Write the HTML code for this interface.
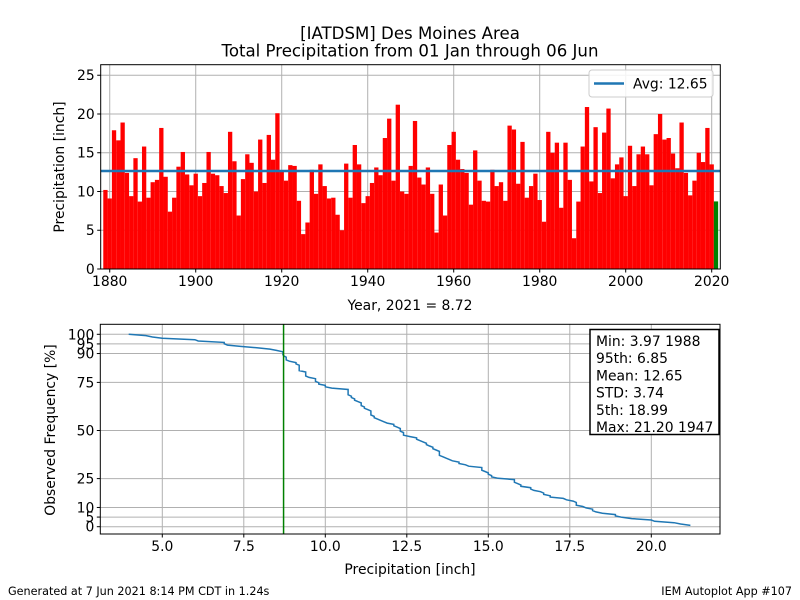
<!DOCTYPE html>
<html><head><meta charset="utf-8"><style>
html,body{margin:0;padding:0;background:#fff;}
svg{display:block;font-family:"DejaVu Sans","Liberation Sans",sans-serif;}
</style></head><body>
<svg id="chart" width="800" height="600" viewBox="0 0 800 600" xmlns="http://www.w3.org/2000/svg">
<rect width="800" height="600" fill="#fff"/>
<text x="410" y="39" font-size="16.6" text-anchor="middle">[IATDSM] Des Moines Area</text>
<text x="410" y="56.5" font-size="16.6" text-anchor="middle">Total Precipitation from 01 Jan through 06 Jun</text>
<g id="topchart"></g>
<g id="botchart"></g>
<text x="8" y="595" font-size="11.2">Generated at 7 Jun 2021 8:14 PM CDT in 1.24s</text>
<text x="792" y="595" font-size="11.2" text-anchor="end">IEM Autoplot App #107</text>
</svg>
<script>
const years = [];
for (let y = 1879; y <= 2021; y++) years.push(y);
const precip = [
10.2,9.1,17.9,16.6,18.9,12.4,9.4,14.3,8.7,15.8,9.2,11.2,11.5,18.2,11.9,7.4,9.2,13.2,15.1,12.2,10.8,
12.3,9.4,11.1,15.1,12.3,12.1,10.7,9.8,17.7,13.9,6.9,11.6,14.8,13.7,10.0,16.7,11.1,17.3,14.1,20.1,
12.6,11.4,13.4,13.3,8.8,4.5,6.0,12.8,9.7,13.5,10.7,9.1,9.2,7.0,5.0,13.6,9.2,16.0,13.5,8.5,
9.4,11.1,13.1,12.1,16.9,19.4,11.4,21.2,10.0,9.7,13.3,19.1,11.8,10.9,13.1,9.7,4.7,10.9,6.9,16.0,
17.7,14.1,12.9,12.4,8.3,15.3,11.4,8.8,8.7,12.8,10.7,11.2,8.8,18.5,18.0,11.0,16.4,9.2,10.7,12.3,
8.9,6.1,17.7,15.0,16.3,7.9,16.3,11.5,3.97,8.7,15.8,20.9,11.3,18.3,9.8,17.6,20.7,11.7,13.5,14.4,
9.4,15.9,10.7,14.8,15.8,14.8,10.8,17.4,20.0,16.7,16.9,14.9,13.0,18.9,12.4,9.5,11.4,15.0,13.8,18.2,
13.5,8.72];
const avgValue = 12.65;
const topYTicks = [0,5,10,15,20,25];
const topXTicks = [1880,1900,1920,1940,1960,1980,2000,2020];
const botXTicks = [5.0,7.5,10.0,12.5,15.0,17.5,20.0];
const botYTicks = [0,5,10,25,50,75,90,95,100];
const thisYearValue = 8.72;
const statLines = ["Min: 3.97 1988","95th: 6.85","Mean: 12.65","STD: 3.74","5th: 18.99","Max: 21.20 1947"];

const NS="http://www.w3.org/2000/svg";
function mk(parent,tag,attrs,text){const e=document.createElementNS(NS,tag);for(const k in attrs)e.setAttribute(k,attrs[k]);if(text!==undefined)e.textContent=text;parent.appendChild(e);return e;}

// ---- top chart ----
const T={l:100.7,r:720.3,t:64.7,b:269};
const tx=v=>T.l+(v-1877.9)/(2022.0-1877.9)*(T.r-T.l);
const ty=v=>T.b-v*(T.b-T.t)/26.36;
const topG=document.getElementById('topchart');
for(const v of topXTicks){const l=mk(topG,'line',{x1:tx(v),x2:tx(v),y1:T.t,y2:T.b,stroke:'#b0b0b0','stroke-width':1});

}
for(const v of topYTicks){const l=mk(topG,'line',{x1:T.l,x2:T.r,y1:ty(v),y2:ty(v),stroke:'#b0b0b0','stroke-width':1});

}
const bw=tx(1)-tx(0);
years.forEach((yr,i)=>{const v=precip[i];
const r=mk(topG,'rect',{x:tx(yr)-bw/2,y:ty(v),width:bw,height:ty(0)-ty(v),fill:yr===2021?'#008000':'#ff0000'});

});
const avgL=mk(topG,'line',{x1:T.l,x2:T.r,y1:ty(avgValue),y2:ty(avgValue),stroke:'#1f77b4','stroke-width':2.5});


const tf=mk(topG,'rect',{x:T.l,y:T.t,width:T.r-T.l,height:T.b-T.t,fill:'none',stroke:'#000','stroke-width':1});


for(const v of topXTicks){mk(topG,'line',{x1:tx(v),x2:tx(v),y1:T.b,y2:T.b+3.5,stroke:'#000'});
const t=mk(topG,'text',{x:tx(v),y:T.b+17,'font-size':13.9,'text-anchor':'middle'},String(v));

}
for(const v of topYTicks){mk(topG,'line',{x1:T.l-3.5,x2:T.l,y1:ty(v),y2:ty(v),stroke:'#000'});
const t=mk(topG,'text',{x:T.l-6,y:ty(v)+5,'font-size':13.9,'text-anchor':'end'},String(v));

}
const xl=mk(topG,'text',{x:410,y:310,'font-size':13.9,'text-anchor':'middle'},'Year, 2021 = '+thisYearValue.toFixed(2));


const yl=mk(topG,'text',{x:0,y:0,'font-size':13.9,'text-anchor':'middle',transform:'translate(64,167) rotate(-90)'},'Precipitation [inch]');


const lg=mk(topG,'g',{});


mk(lg,'rect',{x:589,y:70,width:124,height:27,rx:3,fill:'#fff','fill-opacity':0.85,stroke:'#ccc'});
mk(lg,'line',{x1:594,x2:624,y1:83.5,y2:83.5,stroke:'#1f77b4','stroke-width':2.5});
const lt=mk(lg,'text',{x:633,y:88.5,'font-size':13.9},'Avg: '+avgValue.toFixed(2));



// ---- bottom chart ----
const B={l:100.3,r:720,t:324.3,b:534};
const bx=v=>162.3+(v-5.0)*32.6;
const by=v=>526.7-v*1.924;
const botG=document.getElementById('botchart');
for(const v of botXTicks){const l=mk(botG,'line',{x1:bx(v),x2:bx(v),y1:B.t,y2:B.b,stroke:'#b0b0b0'});

}
for(const v of botYTicks){const l=mk(botG,'line',{x1:B.l,x2:B.r,y1:by(v),y2:by(v),stroke:'#b0b0b0'});

}
const sorted=precip.slice().sort((a,b)=>a-b);
const n=sorted.length;
const pts=sorted.map((v,i)=>bx(v).toFixed(1)+','+by((n-i)/n*100).toFixed(1)).join(' ');
const cl=mk(botG,'polyline',{points:pts,fill:'none',stroke:'#1f77b4','stroke-width':1.5});


const vl=mk(botG,'line',{x1:bx(thisYearValue),x2:bx(thisYearValue),y1:B.t,y2:B.b,stroke:'#008000','stroke-width':1.5});


const bf=mk(botG,'rect',{x:B.l,y:B.t,width:B.r-B.l,height:B.b-B.t,fill:'none',stroke:'#000'});


for(const v of botXTicks){mk(botG,'line',{x1:bx(v),x2:bx(v),y1:B.b,y2:B.b+3.5,stroke:'#000'});
const t=mk(botG,'text',{x:bx(v),y:B.b+17,'font-size':13.9,'text-anchor':'middle'},v.toFixed(1));

}
for(const v of botYTicks){mk(botG,'line',{x1:B.l-3.5,x2:B.l,y1:by(v),y2:by(v),stroke:'#000'});
const t=mk(botG,'text',{x:B.l-6,y:by(v)+5,'font-size':13.9,'text-anchor':'end'},String(v));

}
const bxl=mk(botG,'text',{x:410,y:574,'font-size':13.9,'text-anchor':'middle'},'Precipitation [inch]');


const byl=mk(botG,'text',{x:0,y:0,'font-size':13.9,'text-anchor':'middle',transform:'translate(55,430) rotate(-90)'},'Observed Frequency [%]');


const sb=mk(botG,'g',{});


mk(sb,'rect',{x:590,y:329.5,width:129,height:105,fill:'#fff',stroke:'#000','stroke-width':1.5});
statLines.forEach((s,i)=>{const t=mk(sb,'text',{x:596,y:346+i*17.2,'font-size':13.9},s);

});
</script>
</body></html>
